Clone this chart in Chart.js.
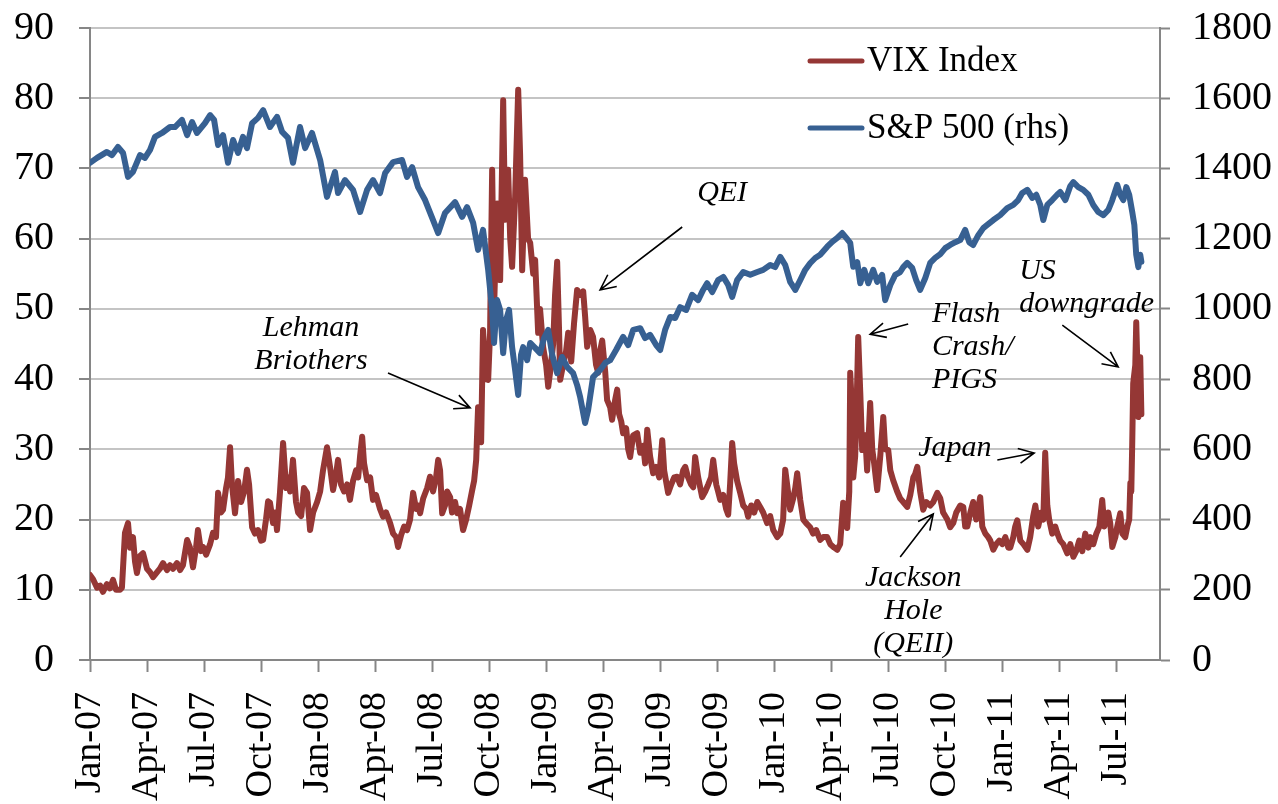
<!DOCTYPE html>
<html>
<head>
<meta charset="utf-8">
<script src="https://cdn.jsdelivr.net/npm/chart.js@4.4.1/dist/chart.umd.min.js"></script>
<style>
  html, body { margin: 0; padding: 0; background: #fff; }
  .chart-size { width: 1278px; height: 804px; position: relative; }
</style>
</head>
<body>
<div class="chart-size"><canvas id="chart"></canvas></div>
<script>
// x values are months since Jan-07 (0 = 1 Jan 2007)
const tickMonths = [0, 3, 6, 9, 12, 15, 18, 21, 24, 27, 30, 33, 36, 39, 42, 45, 48, 51, 54];
const tickLabels = ['Jan-07', 'Apr-07', 'Jul-07', 'Oct-07', 'Jan-08', 'Apr-08', 'Jul-08', 'Oct-08',
  'Jan-09', 'Apr-09', 'Jul-09', 'Oct-09', 'Jan-10', 'Apr-10', 'Jul-10', 'Oct-10', 'Jan-11', 'Apr-11', 'Jul-11'];

// VIX index, [month, level]
const vixPoints = [
  [0, 12.1], [0.16, 11.5], [0.37, 10.3], [0.53, 10.6], [0.68, 9.7], [0.89, 10.8], [1.05, 10.2], [1.21, 11.4],
  [1.37, 10], [1.58, 10], [1.68, 10.3], [1.84, 18.1], [2.0, 19.5], [2.11, 16], [2.26, 17.5], [2.37, 14],
  [2.47, 12.4], [2.63, 14.8], [2.79, 15.2], [3.0, 13], [3.16, 12.5], [3.32, 11.8], [3.53, 12.5], [3.68, 13],
  [3.84, 13.8], [4.05, 12.8], [4.21, 13.5], [4.37, 13], [4.58, 13.8], [4.74, 12.8], [4.89, 13.5], [5.11, 17.1],
  [5.26, 16], [5.42, 13.2], [5.58, 16], [5.68, 18.5], [5.84, 15.5], [5.95, 16.1], [6.11, 15], [6.32, 16.5],
  [6.47, 18.1], [6.63, 17.5], [6.74, 23.8], [6.89, 21], [7.0, 21.4], [7.16, 24.5], [7.26, 26], [7.37, 30.3],
  [7.47, 25], [7.63, 20.9], [7.79, 25.5], [7.95, 22.5], [8.11, 24], [8.26, 27.1], [8.37, 25], [8.53, 18.9],
  [8.68, 18], [8.84, 18.5], [9.0, 17], [9.11, 17.1], [9.26, 20], [9.37, 22.6], [9.47, 22.4], [9.63, 19.5],
  [9.74, 21], [9.84, 18.5], [10.0, 24], [10.16, 30.9], [10.32, 24.5], [10.42, 26], [10.53, 24], [10.68, 28.5],
  [10.84, 22.5], [10.95, 21], [11.11, 20.5], [11.26, 24.5], [11.42, 23.8], [11.58, 18.5], [11.74, 21], [11.95, 22.5],
  [12.11, 24], [12.26, 27], [12.47, 30.3], [12.63, 27.5], [12.79, 24.2], [12.95, 26.5], [13.05, 28.5], [13.21, 25],
  [13.37, 24], [13.53, 25], [13.68, 22.8], [13.84, 25.5], [14.0, 27], [14.11, 26], [14.21, 29], [14.32, 31.8],
  [14.42, 28], [14.58, 25.6], [14.74, 26], [14.89, 22.8], [15.05, 23.5], [15.26, 21.5], [15.42, 20.4], [15.58, 21],
  [15.79, 19.5], [15.95, 18], [16.11, 17.5], [16.21, 16.1], [16.37, 17.8], [16.53, 19], [16.68, 18.5], [16.84, 20],
  [17.0, 23.8], [17.16, 21.5], [17.26, 22], [17.37, 20.9], [17.53, 23], [17.74, 24.5], [17.89, 26.1], [18.05, 24],
  [18.21, 26], [18.32, 28.5], [18.42, 27], [18.53, 20.9], [18.68, 22], [18.79, 24], [18.95, 23.2], [19.05, 21],
  [19.21, 22.5], [19.32, 20.9], [19.47, 21.5], [19.63, 18.5], [19.79, 20], [19.95, 22], [20.11, 24.2], [20.21, 25.5],
  [20.32, 28.5], [20.42, 36], [20.58, 31], [20.68, 47], [20.84, 40], [20.95, 39.9], [21.05, 46.5], [21.16, 69.8],
  [21.26, 50], [21.42, 65], [21.58, 54.1], [21.74, 79.7], [21.84, 62.7], [22.0, 69.8], [22.11, 60], [22.21, 56],
  [22.37, 66], [22.53, 81.2], [22.63, 72], [22.74, 55.5], [22.89, 68.4], [23.05, 60], [23.16, 59.4], [23.32, 55],
  [23.42, 57], [23.58, 46.6], [23.68, 50], [23.84, 44.6], [24.0, 42], [24.11, 38.9], [24.21, 41], [24.37, 45],
  [24.47, 52], [24.58, 56.7], [24.68, 47], [24.74, 39.9], [24.89, 42], [25.05, 44], [25.16, 46.6], [25.32, 42.5],
  [25.47, 48], [25.63, 52.7], [25.79, 52], [25.95, 52.5], [26.05, 49], [26.16, 44.6], [26.32, 47], [26.47, 46],
  [26.63, 42], [26.74, 40.9], [26.84, 44], [26.95, 45.5], [27.11, 41], [27.21, 37], [27.37, 36], [27.47, 34.2],
  [27.63, 37], [27.74, 38.5], [27.84, 35], [27.95, 34], [28.05, 32.3], [28.21, 33], [28.32, 30], [28.42, 28.9],
  [28.58, 32], [28.79, 32.3], [28.95, 29.5], [29.11, 30.5], [29.21, 28], [29.32, 32.8], [29.47, 29], [29.63, 26.6],
  [29.79, 27.5], [29.95, 26], [30.11, 31.3], [30.21, 27], [30.42, 23.8], [30.58, 25], [30.74, 26], [30.89, 26.1],
  [31.05, 25], [31.21, 27], [31.32, 27.5], [31.47, 26], [31.63, 25], [31.74, 24.6], [31.84, 28.9], [32.0, 26],
  [32.21, 23.2], [32.37, 24], [32.53, 25], [32.68, 26], [32.79, 28.5], [32.95, 25], [33.05, 24], [33.16, 22.8],
  [33.32, 23.5], [33.47, 21.5], [33.58, 20.7], [33.68, 25], [33.79, 30.9], [33.89, 28], [34.05, 25.5], [34.21, 23.8],
  [34.37, 22], [34.53, 21.5], [34.63, 20.4], [34.79, 22], [34.95, 21], [35.11, 22.5], [35.26, 21.8], [35.42, 21],
  [35.63, 19.5], [35.79, 20.5], [35.95, 18.5], [36.16, 17.5], [36.32, 18], [36.47, 20], [36.58, 27.1], [36.68, 25],
  [36.84, 21.4], [37.0, 23], [37.11, 24.5], [37.21, 26.6], [37.37, 22.8], [37.53, 20], [37.68, 19.5], [37.89, 18.9],
  [38.05, 18], [38.21, 18.5], [38.42, 17.1], [38.58, 17.5], [38.79, 17.5], [38.95, 16.5], [39.16, 16], [39.32, 15.7],
  [39.47, 16.5], [39.63, 22.4], [39.74, 20], [39.84, 18.8], [39.95, 24], [40.0, 40.9], [40.11, 35], [40.16, 26],
  [40.26, 29], [40.32, 34], [40.42, 46], [40.53, 38], [40.63, 29.9], [40.79, 32], [40.89, 27], [41.05, 36.6],
  [41.16, 30], [41.26, 28], [41.42, 24.2], [41.58, 29], [41.74, 34.6], [41.84, 30], [42.0, 29.9], [42.11, 27],
  [42.26, 25.6], [42.47, 24], [42.63, 23], [42.79, 22.5], [43.0, 21.8], [43.16, 23.5], [43.32, 26], [43.42, 26.5],
  [43.53, 27.5], [43.68, 24], [43.84, 21.4], [44.0, 22.5], [44.21, 22], [44.37, 22.5], [44.58, 23.8], [44.74, 23],
  [44.89, 21], [45.11, 20], [45.26, 18.9], [45.42, 19.5], [45.58, 21], [45.79, 22], [45.95, 21.8], [46.05, 19],
  [46.16, 19], [46.32, 21], [46.47, 22.5], [46.63, 20], [46.84, 23.2], [46.95, 19], [47.11, 18], [47.26, 17.5],
  [47.37, 17], [47.53, 15.7], [47.68, 16.5], [47.84, 17], [48.0, 16.5], [48.16, 17.5], [48.32, 16], [48.42, 16],
  [48.58, 17.5], [48.68, 19], [48.79, 19.9], [48.95, 17], [49.11, 16.5], [49.32, 15.7], [49.47, 17.5], [49.63, 20.5],
  [49.74, 22], [49.89, 19], [50.05, 21], [50.16, 20], [50.26, 29.5], [50.37, 22], [50.47, 20], [50.63, 18],
  [50.79, 19], [50.89, 18.1], [51.05, 17], [51.21, 16.5], [51.42, 15.2], [51.58, 16.5], [51.74, 14.7], [51.89, 15.5],
  [52.05, 17], [52.21, 15.5], [52.37, 18], [52.53, 16], [52.63, 17.5], [52.79, 16.5], [52.95, 18], [53.11, 19],
  [53.26, 22.8], [53.37, 19], [53.47, 20], [53.58, 21], [53.68, 19.5], [53.79, 16.1], [53.95, 17.5], [54.05, 19],
  [54.21, 20.9], [54.32, 18], [54.47, 17.5], [54.58, 19], [54.68, 20], [54.74, 25.2], [54.79, 24], [54.84, 31],
  [54.89, 39.4], [55.0, 42], [55.05, 48.1], [55.11, 42], [55.16, 34.6], [55.21, 37], [55.26, 43.1], [55.32, 35]
];

// S&P 500 index (right axis), [month, level]
const spxPoints = [
  [0, 1416], [0.37, 1430], [0.89, 1447], [1.16, 1438], [1.47, 1461], [1.74, 1444], [2.0, 1376], [2.26, 1390],
  [2.63, 1438], [2.89, 1430], [3.16, 1453], [3.42, 1490], [3.79, 1501], [4.21, 1518], [4.47, 1518], [4.84, 1538],
  [5.11, 1495], [5.37, 1532], [5.63, 1501], [6.05, 1529], [6.32, 1552], [6.53, 1538], [6.74, 1467], [7.0, 1495],
  [7.26, 1416], [7.53, 1481], [7.79, 1444], [8.05, 1490], [8.26, 1458], [8.53, 1529], [8.84, 1544], [9.11, 1566],
  [9.47, 1518], [9.84, 1547], [10.11, 1504], [10.42, 1487], [10.68, 1416], [11.05, 1518], [11.32, 1458], [11.68, 1501],
  [12.11, 1424], [12.47, 1319], [12.89, 1390], [13.05, 1330], [13.42, 1367], [13.84, 1339], [14.21, 1276], [14.58, 1339],
  [14.89, 1367], [15.26, 1330], [15.53, 1387], [15.95, 1418], [16.42, 1424], [16.68, 1376], [16.95, 1404], [17.26, 1347],
  [17.63, 1310], [18.05, 1253], [18.32, 1216], [18.68, 1273], [19.21, 1304], [19.58, 1262], [19.84, 1290], [20.16, 1245],
  [20.42, 1168], [20.68, 1225], [20.95, 1111], [21.16, 997], [21.26, 903], [21.42, 1025], [21.58, 997], [21.74, 874],
  [21.89, 968], [22.05, 997], [22.21, 891], [22.37, 826], [22.53, 755], [22.68, 869], [22.79, 891], [23.0, 854],
  [23.16, 903], [23.42, 889], [23.68, 874], [23.89, 917], [24.11, 940], [24.32, 869], [24.58, 817], [24.84, 863],
  [25.11, 834], [25.42, 817], [25.63, 783], [25.79, 749], [26.05, 675], [26.21, 712], [26.47, 806], [26.84, 826],
  [27.11, 846], [27.37, 854], [27.68, 883], [28.05, 920], [28.32, 897], [28.58, 940], [28.95, 945], [29.21, 917],
  [29.47, 926], [29.79, 897], [30.0, 883], [30.26, 940], [30.53, 977], [30.79, 974], [31.05, 1005], [31.37, 997],
  [31.68, 1040], [32.0, 1025], [32.26, 1054], [32.47, 1073], [32.74, 1048], [33.05, 1082], [33.32, 1091], [33.58, 1068],
  [33.79, 1034], [34.05, 1082], [34.37, 1105], [34.74, 1097], [35.11, 1105], [35.42, 1111], [35.79, 1125], [36.05, 1119],
  [36.32, 1148], [36.58, 1125], [36.84, 1077], [37.11, 1054], [37.37, 1082], [37.63, 1111], [37.89, 1130], [38.16, 1145],
  [38.42, 1154], [38.79, 1177], [39.05, 1191], [39.32, 1202], [39.58, 1216], [39.79, 1202], [40.0, 1188], [40.16, 1120],
  [40.37, 1133], [40.53, 1073], [40.74, 1111], [40.95, 1073], [41.21, 1111], [41.42, 1077], [41.68, 1097], [41.84, 1025],
  [42.11, 1068], [42.37, 1097], [42.63, 1105], [42.79, 1119], [43.0, 1131], [43.26, 1117], [43.47, 1082], [43.68, 1054],
  [43.95, 1088], [44.21, 1131], [44.47, 1145], [44.74, 1156], [45.0, 1173], [45.26, 1182], [45.53, 1190], [45.79, 1196],
  [46.05, 1225], [46.26, 1190], [46.47, 1182], [46.74, 1210], [47.0, 1230], [47.21, 1239], [47.53, 1253], [47.89, 1267],
  [48.26, 1287], [48.58, 1296], [48.84, 1310], [49.05, 1330], [49.32, 1339], [49.58, 1316], [49.79, 1325], [50.0, 1296],
  [50.16, 1253], [50.37, 1296], [50.63, 1310], [50.89, 1325], [51.05, 1333], [51.32, 1310], [51.58, 1350], [51.74, 1361],
  [52.0, 1347], [52.26, 1339], [52.53, 1325], [52.79, 1296], [53.05, 1276], [53.32, 1267], [53.58, 1282], [53.79, 1310],
  [54.05, 1353], [54.21, 1325], [54.37, 1310], [54.53, 1347], [54.68, 1325], [54.84, 1276], [54.95, 1239], [55.05, 1154],
  [55.16, 1119], [55.26, 1154], [55.32, 1134]
];

// annotations: text anchored at [month, VIX level], arrow from -> to in the same units
const notes = [
  { lines: ['Lehman', 'Briothers'], at: [11.63, 47.3], align: 'center', from: [15.68, 40.87], to: [20.0, 35.9] },
  { lines: ['QEI'], at: [33.26, 66.5], align: 'center', from: [31.16, 61.66], to: [26.84, 52.7] },
  { lines: ['Flash', 'Crash/', 'PIGS'], at: [44.3, 49.3], align: 'left', from: [43.05, 47.85], to: [41.05, 46.4] },
  { lines: ['US', 'downgrade'], at: [48.89, 55.4], align: 'left', from: [51.16, 47.7], to: [54.1, 41.73] },
  { lines: ['Japan'], at: [43.58, 30.2], align: 'left', from: [47.74, 28.48], to: [49.68, 29.48] },
  { lines: ['Jackson', 'Hole', '(QEII)'], at: [43.32, 11.68], align: 'center', from: [42.63, 14.67], to: [44.37, 20.8] }
];

const red = 'rgb(149,55,53)';
const blue = 'rgb(55,96,146)';
const axisGray = '#868686';
const gridGray = '#c4c4c4';
const serif = "'Liberation Serif', 'Times New Roman', serif";

const notesPlugin = {
  id: 'notes',
  afterDraw(chart) {
    const { ctx, scales } = chart;
    const x = scales.x, y = scales.y;
    ctx.save();

    // legend, top right inside the plot
    const legendRows = [chart.data.datasets[0], chart.data.datasets[1]];
    legendRows.forEach((ds, i) => {
      const ly = 61 + i * 67;
      ctx.strokeStyle = ds.borderColor;
      ctx.lineWidth = 5;
      ctx.lineCap = 'round';
      ctx.beginPath();
      ctx.moveTo(810, ly);
      ctx.lineTo(862, ly);
      ctx.stroke();
      ctx.fillStyle = '#000';
      ctx.font = '35px ' + serif;
      ctx.textAlign = 'left';
      ctx.textBaseline = 'middle';
      ctx.fillText(ds.label, 867, ly + 1);
    });

    // event notes with arrows
    ctx.font = 'italic 30px ' + serif;
    ctx.fillStyle = '#000';
    ctx.strokeStyle = '#000';
    ctx.lineWidth = 1.6;
    ctx.lineCap = 'butt';
    notes.forEach(n => {
      const px = x.getPixelForValue(n.at[0]);
      const py = y.getPixelForValue(n.at[1]);
      ctx.textAlign = n.align;
      ctx.textBaseline = 'middle';
      n.lines.forEach((t, i) => ctx.fillText(t, px, py + i * 33));

      const x0 = x.getPixelForValue(n.from[0]), y0 = y.getPixelForValue(n.from[1]);
      const x1 = x.getPixelForValue(n.to[0]), y1 = y.getPixelForValue(n.to[1]);
      const ang = Math.atan2(y1 - y0, x1 - x0);
      ctx.beginPath();
      ctx.moveTo(x0, y0);
      ctx.lineTo(x1, y1);
      ctx.moveTo(x1 - 17 * Math.cos(ang - 0.45), y1 - 17 * Math.sin(ang - 0.45));
      ctx.lineTo(x1, y1);
      ctx.lineTo(x1 - 17 * Math.cos(ang + 0.45), y1 - 17 * Math.sin(ang + 0.45));
      ctx.stroke();
    });
    ctx.restore();
  }
};

// fixed axis boxes so the plot sits where the original one does
const fitVertical = width => s => {
  s.width = width;
  s.paddingTop = 0;
  s.paddingBottom = 0;
};

const ctx = document.getElementById('chart').getContext('2d');
new Chart(ctx, {
  type: 'line',
  data: {
    datasets: [
      {
        label: 'VIX Index',
        data: vixPoints.map(([m, v]) => ({ x: m, y: v })),
        yAxisID: 'y',
        borderColor: red,
        borderWidth: 6,
        borderJoinStyle: 'round',
        borderCapStyle: 'round',
        pointRadius: 0,
        tension: 0,
        order: 2
      },
      {
        label: 'S&P 500 (rhs)',
        data: spxPoints.map(([m, v]) => ({ x: m, y: v })),
        yAxisID: 'y1',
        borderColor: blue,
        borderWidth: 6,
        borderJoinStyle: 'round',
        borderCapStyle: 'round',
        pointRadius: 0,
        tension: 0,
        order: 1
      }
    ]
  },
  options: {
    responsive: true,
    maintainAspectRatio: false,
    animation: false,
    layout: { padding: { top: 28, left: 0, right: 0, bottom: 0 } },
    plugins: {
      legend: { display: false },
      tooltip: { enabled: false }
    },
    scales: {
      x: {
        type: 'linear',
        min: 0,
        max: 56.3,
        afterBuildTicks: s => { s.ticks = tickMonths.map(v => ({ value: v })); },
        afterFit: s => { s.height = 144; s.paddingLeft = 0; s.paddingRight = 0; },
        ticks: {
          autoSkip: false,
          minRotation: 90,
          maxRotation: 90,
          padding: 20,
          color: '#000',
          font: { family: serif, size: 38 },
          callback: (v, i) => tickLabels[i]
        },
        grid: { drawOnChartArea: false, tickLength: 12, tickColor: axisGray, tickWidth: 2 },
        border: { color: axisGray, width: 2 }
      },
      y: {
        position: 'left',
        min: 0,
        max: 90,
        afterFit: fitVertical(90),
        ticks: { stepSize: 10, padding: 25, color: '#000', font: { family: serif, size: 40 } },
        grid: { color: gridGray, lineWidth: 2, tickLength: 11, tickColor: axisGray, tickWidth: 2 },
        border: { color: axisGray, width: 2 }
      },
      y1: {
        position: 'right',
        min: 0,
        max: 1800,
        afterFit: fitVertical(118),
        ticks: { stepSize: 200, padding: 22, color: '#000', font: { family: serif, size: 40 }, callback: v => String(v) },
        grid: { drawOnChartArea: false, tickLength: 10, tickColor: axisGray, tickWidth: 2 },
        border: { color: axisGray, width: 2 }
      }
    }
  },
  plugins: [notesPlugin]
});
</script>
</body>
</html>
